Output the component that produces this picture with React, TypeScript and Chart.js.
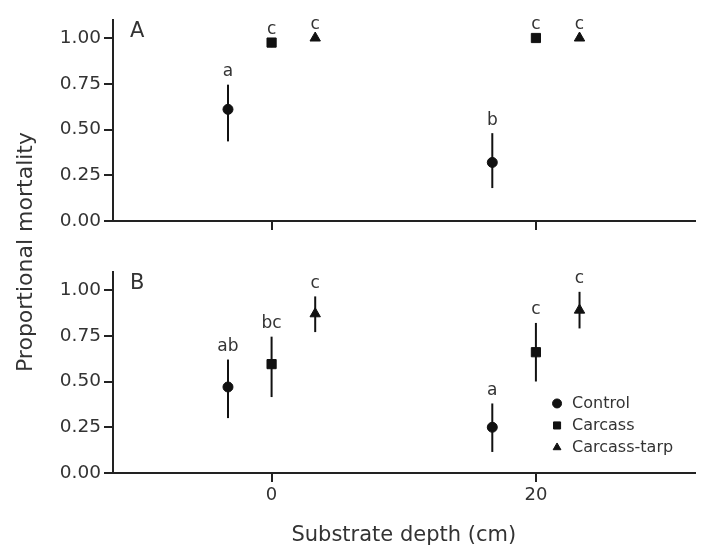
import React, { useEffect, useRef } from "react";
import { Chart, registerables } from "chart.js";
import { drawPoint } from "chart.js/helpers";

Chart.register(...registerables);

// ---------- data ----------
const groups = ["Control", "Carcass", "Carcass-tarp"];
const groupStyles = ["circle", "rect", "triangle"];
const groupRadius = [5, 6.5, 6];
const depths = [0, 20];
const dodge = [-3.3, 0, 3.3];
const xTickValues = [0, 20];
const yTickValues = [0, 0.25, 0.5, 0.75, 1.0];

// Panel A
const aMeanControl = [0.61, 0.32];
const aMeanCarcass = [0.975, 1.0];
const aMeanTarp = [1.0, 1.0];
const aLowControl = [0.435, 0.18];
const aLowCarcass = [0.95, 1.0];
const aLowTarp = [1.0, 1.0];
const aHighControl = [0.745, 0.48];
const aHighCarcass = [0.975, 1.0];
const aHighTarp = [1.0, 1.0];
const aLettersControl = ["a", "b"];
const aLettersCarcass = ["c", "c"];
const aLettersTarp = ["c", "c"];

// Panel B
const bMeanControl = [0.47, 0.25];
const bMeanCarcass = [0.595, 0.66];
const bMeanTarp = [0.87, 0.89];
const bLowControl = [0.3, 0.115];
const bLowCarcass = [0.415, 0.5];
const bLowTarp = [0.77, 0.79];
const bHighControl = [0.62, 0.38];
const bHighCarcass = [0.745, 0.82];
const bHighTarp = [0.965, 0.99];
const bLettersControl = ["ab", "a"];
const bLettersCarcass = ["bc", "c"];
const bLettersTarp = ["c", "c"];

const xAxisTitle = "Substrate depth (cm)";
const yAxisTitle = "Proportional mortality";

// ---------- styling ----------
const W = 702;
const H = 546;
const FONT = "DejaVu Sans";
const INK = "#111";
const AXIS = "#222";
const TEXT = "#333";

type PanelData = {
  label: string;
  means: number[][];
  lows: number[][];
  highs: number[][];
  letters: string[][];
  bottom: boolean;
};

const panelA: PanelData = {
  label: "A",
  means: [aMeanControl, aMeanCarcass, aMeanTarp],
  lows: [aLowControl, aLowCarcass, aLowTarp],
  highs: [aHighControl, aHighCarcass, aHighTarp],
  letters: [aLettersControl, aLettersCarcass, aLettersTarp],
  bottom: false,
};

const panelB: PanelData = {
  label: "B",
  means: [bMeanControl, bMeanCarcass, bMeanTarp],
  lows: [bLowControl, bLowCarcass, bLowTarp],
  highs: [bHighControl, bHighCarcass, bHighTarp],
  letters: [bLettersControl, bLettersCarcass, bLettersTarp],
  bottom: true,
};

function makeConfig(p: PanelData): any {
  const datasets = groups.map((g, gi) => ({
    label: g,
    data: depths.map((d, di) => ({ x: d + dodge[gi], y: p.means[gi][di] })),
    pointStyle: groupStyles[gi],
    pointRadius: groupRadius[gi],
    pointBorderWidth: 1,
    backgroundColor: INK,
    borderColor: INK,
    showLine: false,
  }));

  const overlay = {
    id: "overlay" + p.label,
    beforeDatasetsDraw(chart: any) {
      const ctx = chart.ctx;
      const xs = chart.scales.x;
      const ys = chart.scales.y;
      ctx.save();
      ctx.strokeStyle = INK;
      ctx.lineWidth = 2;
      groups.forEach((_, gi) => {
        depths.forEach((d, di) => {
          const lo = p.lows[gi][di];
          const hi = p.highs[gi][di];
          if (hi - lo <= 0) return;
          const x = xs.getPixelForValue(d + dodge[gi]);
          ctx.beginPath();
          ctx.moveTo(x, ys.getPixelForValue(lo));
          ctx.lineTo(x, ys.getPixelForValue(hi));
          ctx.stroke();
        });
      });
      ctx.restore();
    },
    afterDatasetsDraw(chart: any) {
      const ctx = chart.ctx;
      const xs = chart.scales.x;
      const ys = chart.scales.y;
      const area = chart.chartArea;
      ctx.save();
      // significance letters
      ctx.fillStyle = TEXT;
      ctx.font = `17px "${FONT}"`;
      ctx.textAlign = "center";
      ctx.textBaseline = "middle";
      groups.forEach((_, gi) => {
        depths.forEach((d, di) => {
          const x = xs.getPixelForValue(d + dodge[gi]);
          const top = ys.getPixelForValue(p.highs[gi][di]);
          ctx.fillText(p.letters[gi][di], x, top - 13);
        });
      });
      // panel label
      ctx.font = `21px "${FONT}"`;
      ctx.textAlign = "left";
      ctx.fillText(p.label, area.left + 17, ys.getPixelForValue(1.0) - 6);

      if (p.bottom) {
        // legend inside the plot area
        const lx = xs.getPixelForValue(21.6);
        const ly0 = ys.getPixelForValue(0.38);
        chart.data.datasets.forEach((ds: any, i: number) => {
          const y = ly0 + i * 22;
          ctx.fillStyle = INK;
          ctx.strokeStyle = INK;
          ctx.lineWidth = 1;
          drawPoint(
            ctx,
            { pointStyle: ds.pointStyle, radius: i === 1 ? 5 : 4.5, rotation: 0, borderWidth: 1 } as any,
            lx,
            y
          );
          ctx.fillStyle = TEXT;
          ctx.font = `16px "${FONT}"`;
          ctx.textAlign = "left";
          ctx.textBaseline = "middle";
          ctx.fillText(ds.label, lx + 15, y);
        });
        // shared y-axis title spanning both panels
        ctx.save();
        ctx.translate(26, 252);
        ctx.rotate(-Math.PI / 2);
        ctx.fillStyle = TEXT;
        ctx.font = `22px "${FONT}"`;
        ctx.textAlign = "center";
        ctx.textBaseline = "middle";
        ctx.fillText(yAxisTitle, 0, 0);
        ctx.restore();
      }
      ctx.restore();
    },
  };

  const axisCommon = {
    grid: {
      display: true,
      drawOnChartArea: false,
      drawTicks: true,
      tickLength: 9,
      color: AXIS,
      lineWidth: 2,
    },
    border: { display: true, color: AXIS, width: 2 },
  };

  return {
    type: "scatter",
    data: { datasets },
    plugins: [overlay],
    options: {
      animation: false,
      responsive: false,
      events: [],
      layout: {
        padding: p.bottom
          ? { top: 271.7, right: 7, bottom: 0, left: 0 }
          : { top: 19.7, right: 7, bottom: H - 221 - 12, left: 0 },
      },
      plugins: { legend: { display: false }, tooltip: { enabled: false } },
      scales: {
        x: {
          type: "linear",
          min: -12,
          max: 32,
          ...axisCommon,
          afterBuildTicks: (s: any) => {
            s.ticks = xTickValues.map((v) => ({ value: v }));
          },
          afterFit: (s: any) => {
            s.height = p.bottom ? 73 : 12;
          },
          ticks: {
            display: p.bottom,
            autoSkip: false,
            maxRotation: 0,
            padding: 3,
            color: TEXT,
            font: { family: FONT, size: 18 },
          },
          title: {
            display: p.bottom,
            text: xAxisTitle,
            color: TEXT,
            font: { family: FONT, size: 21, lineHeight: 1 },
            padding: { top: 0, bottom: 0 },
          },
        },
        y: {
          type: "linear",
          min: 0,
          max: 1.1,
          ...axisCommon,
          afterBuildTicks: (s: any) => {
            s.ticks = yTickValues.map((v) => ({ value: v }));
          },
          afterFit: (s: any) => {
            s.width = 113;
          },
          ticks: {
            padding: 3,
            color: TEXT,
            font: { family: FONT, size: 18.5 },
            callback: (v: any) => Number(v).toFixed(2),
          },
        },
      },
    },
  };
}

function Panel({ data }: { data: PanelData }) {
  const ref = useRef<HTMLCanvasElement | null>(null);
  useEffect(() => {
    if (!ref.current) return;
    const chart = new Chart(ref.current, makeConfig(data));
    return () => chart.destroy();
  }, [data]);
  return (
    <canvas
      ref={ref}
      width={W}
      height={H}
      style={{ position: "absolute", left: 0, top: 0, width: W, height: H }}
    />
  );
}

export default function App() {
  Chart.defaults.font.family = FONT;
  return (
    <div
      style={{
        position: "absolute",
        left: 0,
        top: 0,
        width: W,
        height: H,
        background: "#fff",
        overflow: "hidden",
      }}
    >
      <Panel data={panelA} />
      <Panel data={panelB} />
    </div>
  );
}
